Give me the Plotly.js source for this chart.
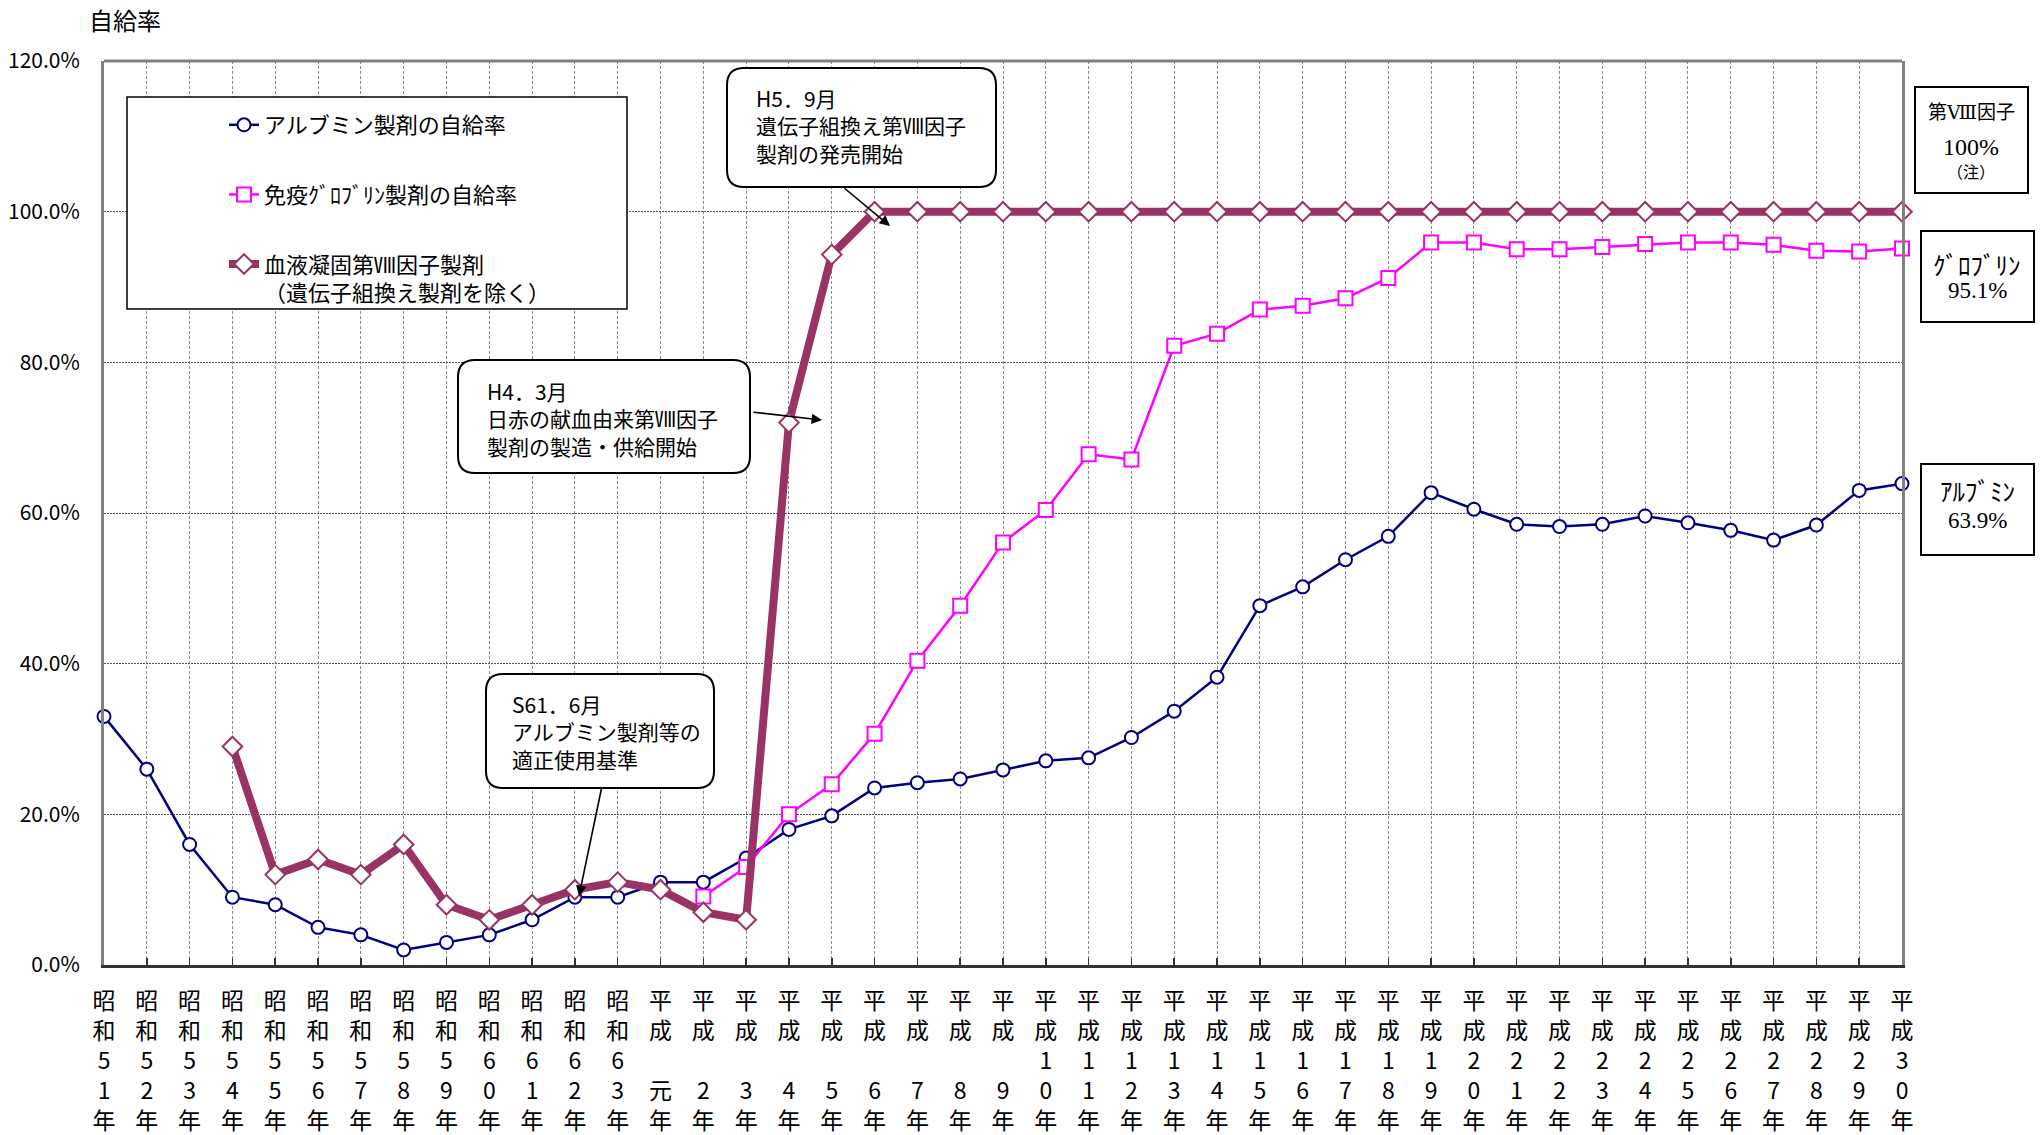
<!DOCTYPE html>
<html>
<head>
<meta charset="utf-8">
<script src="https://cdn.plot.ly/plotly-3.0.1.min.js"></script>
<style>html,body{margin:0;padding:0;background:#fff;}#chart{width:2042px;height:1135px;}</style>
</head>
<body>
<div id="chart"></div>
<script>
// ---- data ----
const yearLabels = [
  "昭<br>和<br>5<br>1<br>年","昭<br>和<br>5<br>2<br>年","昭<br>和<br>5<br>3<br>年","昭<br>和<br>5<br>4<br>年",
  "昭<br>和<br>5<br>5<br>年","昭<br>和<br>5<br>6<br>年","昭<br>和<br>5<br>7<br>年","昭<br>和<br>5<br>8<br>年",
  "昭<br>和<br>5<br>9<br>年","昭<br>和<br>6<br>0<br>年","昭<br>和<br>6<br>1<br>年","昭<br>和<br>6<br>2<br>年",
  "昭<br>和<br>6<br>3<br>年",
  "平<br>成<br> <br>元<br>年","平<br>成<br> <br>2<br>年","平<br>成<br> <br>3<br>年","平<br>成<br> <br>4<br>年",
  "平<br>成<br> <br>5<br>年","平<br>成<br> <br>6<br>年","平<br>成<br> <br>7<br>年","平<br>成<br> <br>8<br>年",
  "平<br>成<br> <br>9<br>年",
  "平<br>成<br>1<br>0<br>年","平<br>成<br>1<br>1<br>年","平<br>成<br>1<br>2<br>年","平<br>成<br>1<br>3<br>年",
  "平<br>成<br>1<br>4<br>年","平<br>成<br>1<br>5<br>年","平<br>成<br>1<br>6<br>年","平<br>成<br>1<br>7<br>年",
  "平<br>成<br>1<br>8<br>年","平<br>成<br>1<br>9<br>年",
  "平<br>成<br>2<br>0<br>年","平<br>成<br>2<br>1<br>年","平<br>成<br>2<br>2<br>年","平<br>成<br>2<br>3<br>年",
  "平<br>成<br>2<br>4<br>年","平<br>成<br>2<br>5<br>年","平<br>成<br>2<br>6<br>年","平<br>成<br>2<br>7<br>年",
  "平<br>成<br>2<br>8<br>年","平<br>成<br>2<br>9<br>年","平<br>成<br>3<br>0<br>年"
];
const albumin = [33.0,26.0,16.0,9.0,8.0,5.0,4.0,2.0,3.0,4.0,6.0,9.0,9.0,
  11.0,11.0,14.2,18.0,19.8,23.5,24.2,24.7,25.9,27.1,27.5,30.2,33.7,38.2,47.7,50.2,
  53.8,56.9,62.7,60.5,58.5,58.2,58.5,59.6,58.7,57.7,56.4,58.4,63.0,63.9];
const globulin = [null,null,null,null,null,null,null,null,null,null,null,null,null,null,
  9.1,13.0,20.0,24.0,30.7,40.4,47.7,56.1,60.4,67.8,67.1,82.2,83.8,87.0,87.5,88.5,91.2,
  95.9,95.9,95.0,95.0,95.3,95.7,95.9,95.9,95.6,94.8,94.7,95.1];
const factor8 = [null,null,null,29.0,12.0,14.0,12.0,16.0,8.0,6.0,8.0,10.0,11.0,
  10.0,7.0,6.0,72.0,94.3,100,100,100,100,100,100,100,100,100,100,100,100,100,
  100,100,100,100,100,100,100,100,100,100,100,100];
const seriesNames = ["アルブミン製剤の自給率","免疫ｸﾞﾛﾌﾞﾘﾝ製剤の自給率","血液凝固第Ⅷ因子製剤<br>（遺伝子組換え製剤を除く）"];
const yTicks = [0,20,40,60,80,100,120];
const yTickLabels = ["0.0%","20.0%","40.0%","60.0%","80.0%","100.0%","120.0%"];

// ---- geometry helpers ----
const W=2042,H=1135,PL=104,PR=1902,PT=61,PB=965;
const px = x => (x-PL)/(PR-PL);
const py = y => (PB-y)/(PB-PT);
function rrect(x0,y0,x1,y1,r){
  const P=(x,y)=>px(x)+','+py(y);
  return `M${P(x0+r,y0)} L${P(x1-r,y0)} Q${P(x1,y0)} ${P(x1,y0+r)} L${P(x1,y1-r)} Q${P(x1,y1)} ${P(x1-r,y1)} L${P(x0+r,y1)} Q${P(x0,y1)} ${P(x0,y1-r)} L${P(x0,y0+r)} Q${P(x0,y0)} ${P(x0+r,y0)} Z`;
}
const xs = yearLabels.map((_,i)=>i);
const JP = "Noto Sans CJK JP, sans-serif";
const SERIF = "Liberation Serif, DejaVu Serif, Noto Sans CJK JP, serif";

const traces = [
  {x:xs,y:albumin,name:seriesNames[0],mode:"lines+markers",legendgroup:"a",
   line:{color:"#000080",width:2.5},
   marker:{symbol:"circle",size:13,color:"#fff",line:{color:"#000080",width:2}},cliponaxis:false},
  {x:xs,y:globulin,name:seriesNames[1],mode:"lines+markers",legendgroup:"b",
   line:{color:"#FF00FF",width:2.5},
   marker:{symbol:"square",size:14,color:"#fff",line:{color:"#FF00FF",width:2}},cliponaxis:false},
  {x:xs,y:factor8,name:seriesNames[2],mode:"lines+markers",legendgroup:"c",
   line:{color:"#993366",width:8},
   marker:{symbol:"diamond",size:15,color:"#fff",line:{color:"#993366",width:2}},cliponaxis:false}
];

const shapes = [
  {type:"line",xref:"paper",yref:"paper",x0:0,x1:1,y0:1,y1:1,line:{color:"#808080",width:3}},
  {type:"rect",xref:"paper",yref:"paper",x0:px(127),x1:px(627),y0:py(97),y1:py(309),
   line:{color:"#000",width:1.5},fillcolor:"#fff",layer:"above"},
  {type:"path",xref:"paper",yref:"paper",path:rrect(486,674,714,788,17),line:{color:"#000",width:2},fillcolor:"#fff",layer:"above"},
  {type:"path",xref:"paper",yref:"paper",path:rrect(458,360,750,473,17),line:{color:"#000",width:2},fillcolor:"#fff",layer:"above"},
  {type:"path",xref:"paper",yref:"paper",path:rrect(727,68,996,187,17),line:{color:"#000",width:2},fillcolor:"#fff",layer:"above"},
  {type:"rect",xref:"paper",yref:"paper",x0:px(1915),x1:px(2028),y0:py(87),y1:py(193),line:{color:"#000",width:2},fillcolor:"#fff"},
  {type:"rect",xref:"paper",yref:"paper",x0:px(1921),x1:px(2034),y0:py(231),y1:py(322),line:{color:"#000",width:2},fillcolor:"#fff"},
  {type:"rect",xref:"paper",yref:"paper",x0:px(1921),x1:px(2034),y0:py(464),y1:py(555),line:{color:"#000",width:2},fillcolor:"#fff"}
];

function txt(x,y,text,size,opts){
  return Object.assign({xref:"paper",yref:"paper",x:px(x),y:py(y),text:text,showarrow:false,
    xanchor:"left",yanchor:"middle",align:"left",font:{family:JP,size:size,color:"#000"}},opts||{});
}
function arrow(tx,ty,hx,hy){
  return {xref:"paper",yref:"paper",x:px(hx),y:py(hy),ax:tx-hx,ay:ty-hy,text:"",showarrow:true,
    arrowhead:2,arrowsize:1.3,arrowwidth:1.6,arrowcolor:"#000",standoff:0,startstandoff:0};
}
const sf = s => ({xanchor:"center",font:{family:SERIF,size:s,color:"#000"}});
const annotations = [
  txt(87,20,"自給率",24),
  txt(510,731,"S61．6月<br>アルブミン製剤等の<br>適正使用基準",21),
  txt(485,418,"H4．3月<br>日赤の献血由来第Ⅷ因子<br>製剤の製造・供給開始",21),
  txt(754,125,"H5．9月<br>遺伝子組換え第Ⅷ因子<br>製剤の発売開始",21),
  arrow(602,786,579,896),
  arrow(752,412,822,420),
  arrow(843,187,890,226),
  txt(1971,113,"第Ⅷ因子",19,sf(19)),
  txt(1971,147,"100%",24,sf(24)),
  txt(1971,173,"（注）",16,sf(16)),
  txt(1977,266,"ｸﾞﾛﾌﾞﾘﾝ",25,sf(25)),
  txt(1977,290,"95.1%",23,sf(23)),
  txt(1977,492,"ｱﾙﾌﾞﾐﾝ",25,sf(25)),
  txt(1977,520,"63.9%",23,sf(23))
];

const layout = {
  width:W,height:H,margin:{l:PL,r:W-PR,t:PT,b:H-PB,pad:0},
  paper_bgcolor:"#fff",plot_bgcolor:"#fff",
  font:{family:JP,color:"#000"},
  showlegend:true,
  legend:{x:px(224),y:py(104),xanchor:"left",yanchor:"top",bgcolor:"rgba(0,0,0,0)",borderwidth:0,
    font:{family:JP,size:22,color:"#000"},tracegroupgap:38,valign:"top",traceorder:"grouped"},
  xaxis:{range:[0,42],tickmode:"array",tickvals:xs,ticktext:yearLabels,tickangle:0,
    showgrid:true,gridcolor:"#8a8a8a",gridwidth:1,griddash:"3px,2px",
    ticks:"inside",ticklen:7,tickcolor:"#333",tickwidth:1.5,
    showline:true,linecolor:"#333",linewidth:2.5,zeroline:false,
    tickfont:{family:JP,size:23,color:"#000"},ticklabelstandoff:14,fixedrange:true},
  yaxis:{range:[0,120],tickmode:"array",tickvals:yTicks,ticktext:yTickLabels,
    showgrid:true,gridcolor:"#555",gridwidth:1,griddash:"2px,1px",
    ticks:"",showline:true,mirror:true,linecolor:"#808080",linewidth:3,zeroline:false,
    tickfont:{family:JP,size:21,color:"#000"},ticklabelstandoff:17,fixedrange:true},
  shapes:shapes,annotations:annotations
};
Plotly.newPlot("chart",traces,layout,{displayModeBar:false,staticPlot:true});
</script>
</body>
</html>
